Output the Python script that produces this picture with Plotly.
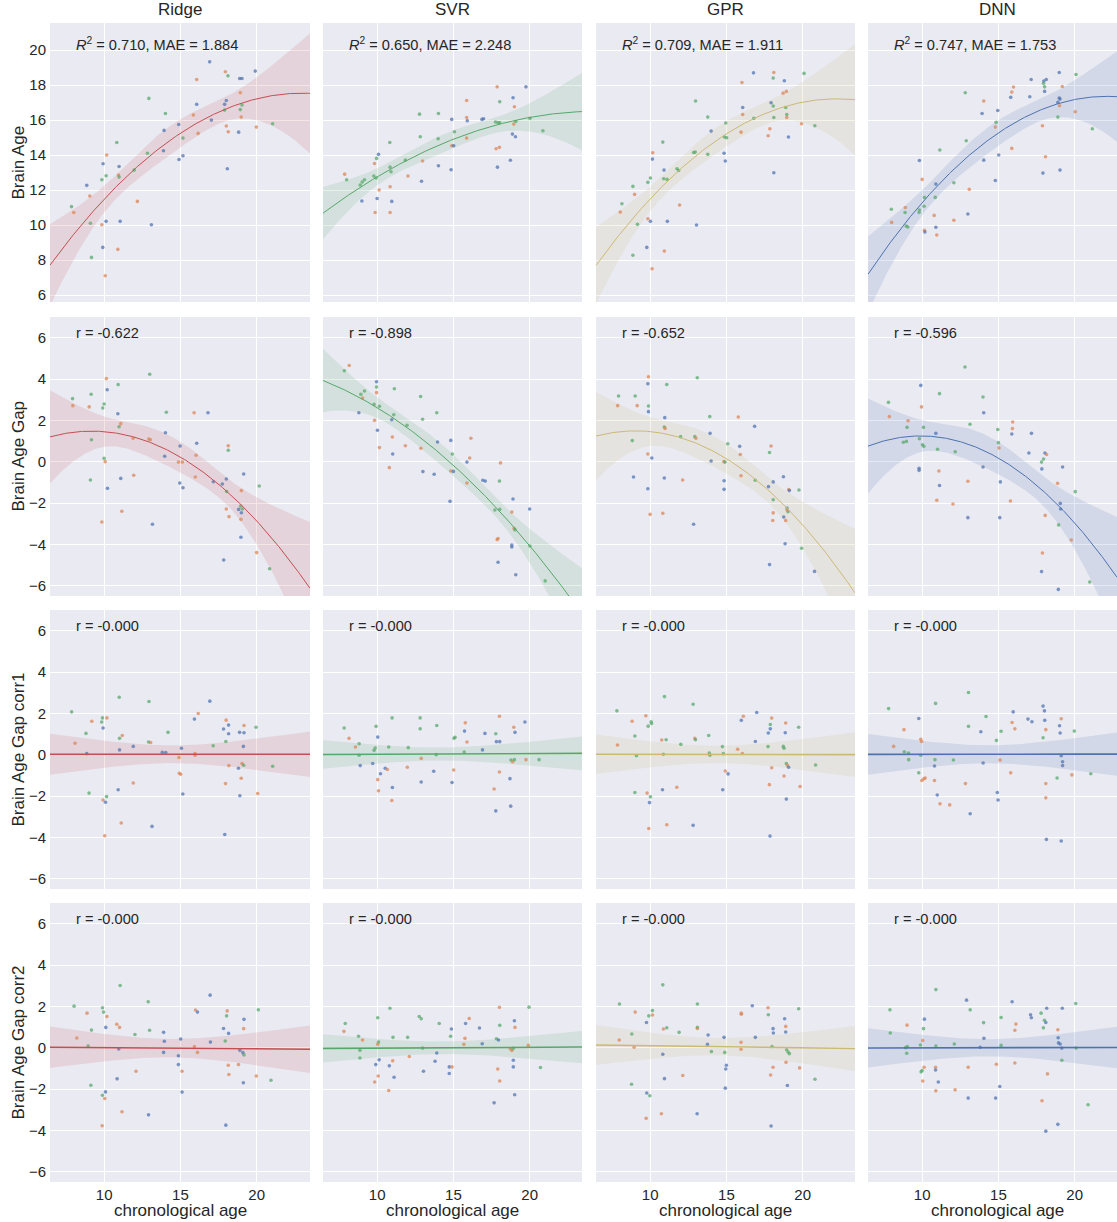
import numpy as np
import plotly.graph_objects as go

# ---------------- labels / styling data ----------------
MODELS = ["Ridge", "SVR", "GPR", "DNN"]
MODEL_COLORS = ["#C44E52", "#55A868", "#CCB974", "#4C72B0"]
ROW_LABELS = ["Brain Age", "Brain Age Gap", "Brain Age Gap corr1", "Brain Age Gap corr2"]
ROW1_TEXT = ["<i>R</i><sup>2</sup> = 0.710, MAE = 1.884", "<i>R</i><sup>2</sup> = 0.650, MAE = 2.248",
             "<i>R</i><sup>2</sup> = 0.709, MAE = 1.911", "<i>R</i><sup>2</sup> = 0.747, MAE = 1.753"]
ROW2_TEXT = ["r = -0.622", "r = -0.898", "r = -0.652", "r = -0.596"]
ROW3_TEXT = ["r = -0.000", "r = -0.000", "r = -0.000", "r = -0.000"]
ROW4_TEXT = ["r = -0.000", "r = -0.000", "r = -0.000", "r = -0.000"]
X_TICKS = [10, 15, 20]
Y_TICKS_AGE = [6, 8, 10, 12, 14, 16, 18, 20]
Y_TICKS_GAP = [-6, -4, -2, 0, 2, 4, 6]
GROUP_COLORS = {"b": "#4C72B0", "o": "#DD8452", "g": "#55A868"}

# ---------------- row 1: brain age ----------------
ridge_age_x = [16.92,17.95,18.12,19.91,18.89,19.04,16.07,12.93,16.07,18.01,17.90,18.93,19.04,18.93,17.90,14.02,15.85,17.03,18.99,21.05,19.98,18.01,18.14,18.82,14.89,13.93,15.17,16.16,10.83,12.84,13.89,10.17,14.91,15.17,18.08,9.93,10.98,10.94,10.98,11.97,10.13,9.85,8.86,9.06,12.18,7.86,8.01,9.10,9.85,10.13,11.05,13.10,9.91,10.90,9.17,10.07]
ridge_age_y = [19.33,18.76,18.53,18.80,18.38,18.38,18.32,17.24,16.90,17.12,16.90,17.56,16.86,16.60,16.57,16.38,16.29,16.00,16.17,15.79,15.60,15.66,15.33,15.31,15.75,15.41,14.97,15.24,14.72,14.10,14.25,14.00,13.75,13.96,13.22,13.50,13.35,12.86,12.74,13.14,12.82,12.59,12.27,11.66,11.35,11.05,10.72,10.10,10.02,10.21,10.21,10.02,8.72,8.61,8.15,7.10]
ridge_age_g = "bogbbbogbb" "boggggobog" "ooobbbgogg" "bobbbbbogg" "ggboogogob" "bbbogo"

svr_age_x = [17.87,19.76,18.91,18.04,15.87,19.00,12.78,14.02,14.89,15.87,15.91,16.87,16.98,17.76,17.93,18.04,18.96,19.09,20.02,20.87,15.07,12.83,14.00,18.87,19.07,15.87,14.89,15.02,10.83,17.80,18.02,10.09,9.96,9.83,11.85,12.98,14.02,14.85,17.89,18.74,10.85,10.91,7.87,8.00,8.89,9.02,9.17,9.78,9.93,12.02,12.91,10.13,10.85,9.00,10.00,10.96,9.87,10.85]
svr_age_y = [17.90,17.90,17.28,17.05,17.12,16.76,16.34,16.38,16.04,16.15,15.96,16.04,16.08,15.89,15.85,15.85,15.77,15.92,16.10,15.39,15.33,15.05,14.93,15.20,15.05,14.97,14.53,14.53,14.72,14.36,14.44,14.04,13.81,13.52,13.71,13.66,13.39,13.16,13.31,13.70,13.31,13.05,12.91,12.59,12.29,12.46,12.59,12.80,12.69,12.80,12.50,12.00,12.19,11.37,11.52,11.35,10.72,10.72]
svr_age_g = "obbgooggbo" "bbbgggoggg" "gggbboobgo" "obgogobbbb" "ggoggggggo" "boobbboo"

gpr_age_x = [16.78,18.11,18.07,18.80,20.09,16.02,18.72,18.93,12.98,16.07,17.93,18.07,18.89,16.07,18.96,18.96,16.80,18.11,13.78,14.96,14.00,15.96,17.85,17.74,19.93,20.80,19.07,14.87,15.02,10.83,12.85,12.96,13.78,14.85,14.93,10.17,10.15,18.11,10.91,11.76,11.87,10.89,11.11,10.02,9.85,8.87,8.98,11.93,8.15,8.04,9.17,9.85,10.02,11.13,13.04,9.78,10.93,8.87,10.13]
gpr_age_y = [18.70,18.72,18.40,18.25,18.67,18.15,17.54,17.64,17.09,16.72,16.99,16.80,16.72,16.32,16.32,16.15,16.10,16.15,16.17,15.83,15.37,15.31,15.50,15.10,15.79,15.68,15.03,15.03,14.99,14.74,14.15,14.17,14.04,14.10,13.66,14.13,13.77,12.99,13.14,13.22,13.12,12.65,12.61,12.69,12.44,12.21,11.75,11.14,11.22,10.74,10.04,10.36,10.21,10.21,10.00,8.72,8.51,8.27,7.50]
gpr_age_g = "bogbgooogb" "bggogogggg" "boooogbggg" "gggbbobbbg" "ggggggoogo" "gobbbbogo"

dnn_age_x = [18.99,20.09,17.15,18.14,17.98,17.96,18.03,18.03,19.19,15.99,15.88,15.81,17.06,12.83,14.04,18.99,19.04,18.90,19.01,14.96,13.93,20.04,18.90,14.85,14.80,17.89,21.16,12.89,15.88,11.16,15.02,14.04,9.82,18.09,17.92,19.04,10.00,14.80,10.90,12.08,13.09,10.15,10.86,7.98,8.90,8.88,9.82,9.80,10.13,10.79,13.00,8.00,8.95,9.06,12.08,10.15,10.18,10.90,10.96]
dnn_age_y = [18.72,18.61,18.32,18.32,18.23,18.10,17.90,17.64,17.92,17.89,17.60,17.30,17.33,17.56,17.09,17.26,17.20,17.01,16.82,16.55,16.38,16.48,16.17,15.87,15.60,15.68,15.50,14.82,14.38,14.29,14.00,13.71,13.69,13.90,12.97,13.14,12.61,12.55,12.34,12.42,12.04,11.58,11.58,10.90,11.00,10.72,10.86,10.72,11.07,10.55,10.63,10.15,9.94,9.89,10.27,9.70,9.60,9.87,9.43]
dnn_age_g = "bgbbbggboo" "obbgobbbob" "boggooggog" "bbbobbobbg" "ogggoggggo" "boggoobbo"

# ---------------- row 2: brain age gap ----------------
ridge_gap_x = [12.99,10.15,10.92,10.20,9.15,7.93,7.95,9.02,10.00,9.91,10.90,14.08,15.90,16.81,11.09,10.98,14.02,9.17,11.90,12.93,13.03,16.07,14.98,18.14,18.14,13.97,16.03,14.87,15.13,10.00,10.07,19.15,9.10,11.09,11.94,15.98,17.16,17.75,18.01,14.96,15.17,10.22,20.17,19.00,18.03,18.95,18.82,19.00,19.06,18.01,18.19,18.97,11.16,9.85,13.17,18.97,20.00,17.84,20.85]
ridge_gap_y = [4.23,4.02,3.73,3.48,3.26,3.05,2.71,2.65,2.79,2.60,2.32,2.39,2.37,2.37,1.84,1.69,1.40,1.06,1.13,1.10,1.06,0.89,0.76,0.77,0.55,0.26,0.31,-0.02,-0.02,0.16,0.00,-0.60,-0.89,-0.81,-0.66,-0.74,-0.97,-1.08,-0.84,-1.03,-1.26,-1.29,-1.18,-1.40,-1.44,-2.15,-2.31,-2.47,-2.29,-2.29,-2.66,-2.79,-2.40,-2.92,-3.03,-3.66,-4.40,-4.76,-5.18]
ridge_gap_g = "gogbggoogg" "bgobogbgoo" "obbogbooog" "obgboobbbb" "bbgoggbbgo" "oooobbobg"

svr_gap_x = [8.17,7.85,9.96,9.96,9.96,11.13,9.17,8.93,9.04,12.85,9.80,10.15,8.80,13.91,11.09,10.96,12.98,9.83,11.96,10.02,11.00,13.96,14.83,16.15,11.85,10.15,12.87,11.02,14.93,16.07,15.89,18.09,10.80,13.00,13.74,14.83,15.00,16.93,17.09,18.02,15.89,18.91,14.78,17.72,18.04,18.83,20.00,18.98,19.04,17.87,17.93,18.83,18.83,20.02,17.93,19.09,21.02]
svr_gap_y = [4.65,4.40,3.87,3.61,3.34,3.53,3.42,3.26,3.08,3.15,2.77,2.68,2.37,2.37,2.27,2.03,2.05,2.00,1.76,1.52,1.19,0.95,1.03,1.13,0.77,0.68,0.65,0.37,0.37,0.18,-0.02,-0.06,-0.29,-0.48,-0.61,-0.45,-0.47,-0.90,-0.94,-0.94,-1.03,-1.81,-1.92,-2.34,-2.31,-2.44,-2.29,-3.23,-3.30,-3.77,-3.72,-4.03,-4.13,-4.08,-4.87,-5.47,-5.77]
svr_gap_g = "ogbgogggog" "ggbggbgogb" "obboooobgo" "boobbobbbg" "obbggobogo" "obbgbbg"

gpr_gap_x = [9.89,9.85,11.09,13.09,7.93,9.02,7.87,9.15,9.89,9.89,10.96,13.91,15.78,16.85,10.93,10.98,13.93,12.00,12.93,13.00,8.83,15.09,15.87,17.93,17.83,15.91,9.85,10.11,14.00,14.83,14.91,8.91,10.93,12.13,14.85,15.96,16.89,18.07,17.76,18.74,19.09,19.13,19.76,9.85,14.85,18.07,18.98,19.04,18.98,18.07,18.76,18.89,18.04,10.00,10.83,12.85,18.85,19.93,17.83,20.78]
gpr_gap_y = [4.11,3.77,3.73,4.06,3.18,3.18,2.71,2.71,2.69,2.42,2.13,2.18,2.16,1.71,1.68,1.61,1.37,1.21,1.21,1.13,1.02,0.87,0.74,0.76,0.44,0.35,0.37,0.18,0.03,0.00,-0.02,-0.74,-0.79,-0.89,-0.92,-0.68,-0.90,-0.98,-1.21,-0.73,-1.35,-1.40,-1.37,-1.31,-1.34,-1.84,-2.24,-2.42,-2.34,-2.48,-2.68,-2.85,-2.85,-2.55,-2.50,-3.03,-3.97,-4.19,-4.98,-5.31]
gpr_gap_g = "obggggoogb" "bgobgobggo" "ggbogoobbo" "gbbobogbbb" "obgbbgggoo" "boooobbgbb"

dnn_gap_x = [12.81,9.91,11.14,13.99,7.79,9.96,14.04,7.85,9.08,15.94,13.14,9.01,10.09,14.96,15.92,15.88,17.17,10.90,8.77,8.97,9.82,10.02,10.11,15.00,15.04,11.01,12.17,17.00,18.05,18.16,17.96,17.83,13.99,17.85,19.21,9.80,9.80,11.10,13.00,15.13,18.88,11.14,20.04,10.96,12.02,15.79,19.06,19.08,18.07,18.95,13.00,15.09,19.78,17.89,17.83,20.99,18.93]
dnn_gap_y = [4.58,3.69,3.29,3.13,2.87,2.65,2.37,2.18,1.98,1.92,1.81,1.66,1.66,1.56,1.60,1.34,1.37,1.37,0.94,0.98,1.11,0.82,0.74,0.92,0.66,0.60,0.48,0.42,0.42,0.35,0.13,-0.02,-0.26,-0.35,-0.26,-0.32,-0.42,-0.45,-0.95,-0.98,-1.05,-1.15,-1.45,-1.87,-2.05,-1.90,-2.02,-2.29,-2.60,-3.06,-2.71,-2.71,-3.79,-4.42,-5.32,-5.82,-6.18]
dnn_gap_g = "gbgggobooo" "ggggobbbgg" "ggggoggbbo" "ggbbbbboob" "obgooobbog" "bboobgb"

# ---------------- row 3: corrected gap (corr1) ----------------
ridge_c1_x = [10.99,12.94,16.93,7.87,16.17,15.92,9.19,9.89,10.18,9.84,9.93,18.00,18.16,17.83,19.17,19.96,8.81,14.19,18.16,18.88,19.17,11.19,11.01,12.91,13.05,8.09,11.91,11.01,17.15,17.98,19.13,8.86,13.81,14.04,15.07,14.91,15.96,15.96,18.18,18.81,19.04,19.15,21.05,14.93,15.02,11.91,17.96,18.99,10.92,9.01,15.16,18.90,20.07,9.93,10.09,10.16,11.12,13.14,17.91,10.04]
ridge_c1_y = [2.78,2.57,2.59,2.07,1.99,1.72,1.62,1.78,1.78,1.58,1.29,1.67,1.43,1.24,1.41,1.33,1.03,1.08,1.01,1.08,1.06,0.93,0.79,0.61,0.59,0.55,0.40,0.23,0.43,0.64,0.40,0.05,0.11,0.10,0.31,-0.14,0.05,-0.03,-0.53,-0.66,-0.43,-0.51,-0.56,-0.90,-0.95,-1.37,-1.40,-1.14,-1.70,-1.86,-1.90,-1.99,-1.88,-2.19,-2.30,-2.03,-3.31,-3.47,-3.86,-3.92]
ridge_c1_g = "ggbgobogog" "bobbogggbb" "boggoobbgg" "bbbbboooob" "oggooooobg" "bboobgobbo"

svr_c1_x = [10.98,12.82,18.02,19.69,7.84,9.93,12.82,13.91,15.78,18.96,15.73,17.07,17.78,19.04,8.16,10.04,15.04,15.11,15.89,17.82,18.04,8.82,8.58,9.87,9.80,10.76,12.04,16.91,15.71,8.82,13.87,12.89,18.78,18.89,19.00,19.76,20.62,8.89,9.71,10.53,10.67,11.98,13.71,15.02,18.02,10.22,12.89,14.91,18.71,10.04,11.00,10.09,17.67,10.96,18.76,17.78]
svr_c1_y = [1.78,1.78,1.86,1.58,1.29,1.37,1.25,1.41,1.54,1.33,1.14,1.03,1.01,1.08,0.79,0.85,0.79,0.84,0.61,0.63,0.63,0.53,0.37,0.32,0.21,0.37,0.34,0.23,0.13,-0.03,0.00,-0.18,-0.26,-0.34,-0.24,-0.24,-0.24,-0.53,-0.43,-0.66,-0.72,-0.61,-0.80,-0.74,-0.84,-0.92,-1.32,-1.35,-1.16,-1.21,-1.59,-1.75,-1.66,-2.22,-2.49,-2.72]
svr_c1_g = "ggobggggoo" "bbgbobggob" "bgoggggbgg" "gogogogbbb" "ooboobbbbo" "booobb"

gpr_c1_x = [10.94,12.82,7.82,16.99,9.72,16.11,8.82,15.98,10.07,10.09,9.87,17.97,17.88,17.88,17.75,18.89,19.74,18.86,9.00,13.84,10.76,11.05,12.93,12.97,16.90,12.01,7.86,17.73,18.73,18.78,14.74,15.74,10.87,9.10,13.88,13.92,14.80,16.05,18.93,19.00,19.08,20.85,17.97,14.93,15.11,18.78,17.82,19.83,11.75,10.81,14.76,9.00,9.80,10.02,9.96,18.93,9.91,11.09,12.82,17.86]
gpr_c1_y = [2.81,2.44,2.12,2.04,1.88,1.86,1.62,1.66,1.59,1.51,1.38,1.77,1.46,1.25,1.05,1.53,1.33,1.06,0.90,0.93,0.71,0.72,0.79,0.72,0.64,0.50,0.47,0.39,0.40,0.31,0.39,0.26,0.02,-0.05,0.08,-0.03,0.05,0.06,-0.43,-0.51,-0.61,-0.50,-0.63,-0.79,-0.93,-1.03,-1.45,-1.54,-1.58,-1.70,-1.70,-1.83,-1.86,-2.04,-2.32,-2.15,-3.57,-3.39,-3.42,-3.94]
gpr_c1_g = "gggbooobgg" "gogbbogbgg" "ogogbgoggg" "gogggggogo" "bgooboooob" "bgogbboobb"

dnn_c1_x = [13.04,10.88,7.80,17.93,18.02,15.97,9.78,14.19,16.94,17.20,18.04,19.12,15.90,13.04,16.08,18.11,19.01,19.05,8.81,13.85,15.18,19.98,17.93,9.91,9.96,14.87,8.13,8.83,9.10,9.91,9.12,10.84,10.81,12.05,14.00,15.11,19.12,19.21,19.21,9.78,15.81,19.82,21.06,18.85,9.98,10.11,10.20,10.81,12.84,18.11,10.99,14.93,14.98,11.17,11.81,18.11,13.15,18.15,19.12]
dnn_c1_y = [3.01,2.48,2.23,2.35,2.12,2.07,1.75,1.85,1.72,1.59,1.66,1.74,1.56,1.37,1.25,1.21,1.40,1.05,1.21,1.11,1.13,1.14,0.82,0.74,0.64,0.69,0.40,0.14,0.08,-0.03,-0.24,-0.24,-0.55,-0.26,-0.40,-0.26,-0.05,-0.34,-0.53,-0.88,-0.88,-0.98,-0.92,-1.13,-1.25,-1.17,-1.13,-1.25,-1.40,-1.40,-1.95,-1.83,-2.19,-2.38,-2.43,-2.09,-2.86,-4.10,-4.18]
dnn_c1_g = "gggbbbbgbb" "boogoobbob" "gggoogoggg" "ggbgbobbbg" "ooggoooooo" "bbbooobbb"

# ---------------- row 4: corrected gap (corr2) ----------------
ridge_c2_x = [11.05,16.95,12.89,8.03,9.89,9.96,10.18,8.88,15.99,16.12,18.07,18.03,20.11,19.17,10.11,10.83,11.01,9.17,12.98,13.90,17.83,18.16,19.15,12.02,8.21,13.95,15.02,16.97,17.94,8.95,10.96,15.92,13.90,14.87,16.12,18.90,19.10,19.17,14.87,18.14,18.81,12.09,15.11,18.18,19.98,20.94,10.85,19.13,9.13,10.09,9.89,10.04,15.11,11.17,12.91,9.87,17.98]
ridge_c2_y = [3.01,2.54,2.22,2.01,1.93,1.72,1.51,1.67,1.82,1.72,1.78,1.54,1.83,1.37,0.98,1.13,0.98,0.85,0.84,0.74,0.93,0.69,0.92,0.64,0.47,0.31,0.42,0.27,0.32,0.08,-0.06,0.06,-0.23,-0.39,-0.23,-0.13,-0.24,-0.35,-0.82,-0.85,-0.82,-1.14,-1.14,-1.30,-1.37,-1.58,-1.51,-1.70,-1.82,-2.14,-2.30,-2.46,-2.15,-3.10,-3.25,-3.78,-3.75]
ridge_c2_g = "gbggggooob" "oggbbooggb" "bbogobbbgg" "bobbobbgbo" "ooooogbbgb" "gobobob"

svr_c2_x = [10.84,18.02,19.96,12.76,12.89,10.04,16.04,19.00,7.91,14.07,15.80,18.04,16.71,14.87,19.04,7.82,14.82,8.78,9.04,11.04,12.00,15.76,17.82,17.96,10.09,10.04,15.69,16.89,19.91,12.98,18.73,18.84,18.93,8.87,13.91,12.11,8.87,10.13,11.02,18.93,13.80,9.91,10.80,14.73,14.91,18.93,20.71,17.91,13.04,14.73,11.11,10.07,9.84,18.04,10.76,19.02,17.67]
svr_c2_y = [1.91,1.95,1.96,1.51,1.40,1.45,1.41,1.30,1.17,1.17,1.17,1.08,0.95,0.90,0.98,0.79,0.55,0.55,0.37,0.50,0.50,0.45,0.43,0.37,0.27,0.16,0.16,0.19,0.11,-0.02,-0.05,-0.14,-0.03,-0.13,-0.26,-0.43,-0.50,-0.59,-0.63,-0.61,-0.66,-0.82,-0.88,-0.93,-0.93,-0.93,-0.96,-1.03,-1.14,-1.25,-1.43,-1.37,-1.66,-1.61,-2.07,-2.28,-2.67]
svr_c2_g = "goggggobgg" "bgbbooggog" "gogbgoobog" "ooggbogbob" "bbbbobgobb" "boooobb"

gpr_c2_x = [10.83,7.99,13.10,16.70,17.73,19.74,9.02,10.15,10.15,9.91,15.98,15.98,17.75,18.82,9.76,18.89,18.89,18.06,18.08,10.87,11.09,13.10,13.10,11.90,8.80,13.80,14.85,16.90,7.97,15.96,13.76,8.95,17.99,15.96,14.02,14.89,18.95,19.04,19.13,10.83,18.91,18.06,19.80,15.00,14.96,17.90,12.14,10.94,20.81,8.78,19.00,14.93,9.78,9.98,10.74,9.74,13.08,17.93]
gpr_c2_y = [3.04,2.11,2.11,2.03,1.93,1.88,1.72,1.80,1.58,1.54,1.67,1.62,1.59,1.40,1.22,1.03,0.76,0.92,0.71,0.90,0.96,0.98,0.93,0.74,0.66,0.61,0.50,0.50,0.37,0.26,0.16,0.02,0.06,-0.08,-0.19,-0.23,-0.10,-0.21,-0.29,-0.32,-0.71,-0.95,-0.98,-0.85,-1.03,-1.32,-1.35,-1.50,-1.53,-1.77,-1.83,-1.96,-2.19,-2.33,-3.20,-3.42,-3.20,-3.79]
gpr_c2_g = "gggbogogog" "oogbbobbbo" "ggoggbbboo" "bogogggggb" "ooobboobgg" "bbbgoobb"

dnn_c2_x = [10.90,12.91,15.90,20.07,7.89,13.15,18.17,19.19,17.80,17.11,17.16,10.15,18.02,18.11,14.03,15.18,9.01,16.15,10.09,17.95,18.90,16.08,7.91,18.92,18.94,19.05,14.05,10.04,9.89,9.03,8.92,10.90,12.11,13.81,15.18,19.16,20.09,8.99,19.16,10.13,10.88,13.02,14.87,16.08,10.88,9.93,10.00,18.22,10.04,11.06,15.09,10.90,12.16,13.02,14.82,17.86,20.88,18.90,18.11]
dnn_c2_y = [2.81,2.30,2.22,2.14,1.83,1.83,1.91,1.91,1.67,1.59,1.45,1.38,1.33,1.22,1.21,1.46,1.09,1.14,0.92,0.96,0.87,0.84,0.71,0.48,0.23,0.18,0.45,0.35,0.13,0.06,0.00,0.08,0.18,0.02,0.11,-0.02,-0.02,-0.27,-0.61,-0.95,-0.95,-0.95,-0.80,-0.74,-1.08,-1.17,-1.11,-1.27,-1.61,-1.66,-1.88,-2.09,-2.04,-2.44,-2.44,-2.57,-2.76,-3.71,-4.04]
dnn_c2_g = "gbbgggbbgb" "bbgbggoogg" "oogbbbbogg" "gggbgbgggo" "oooobggoob" "boobbogbb"

PANELS = [
    [(ridge_age_x, ridge_age_y, ridge_age_g), (svr_age_x, svr_age_y, svr_age_g),
     (gpr_age_x, gpr_age_y, gpr_age_g), (dnn_age_x, dnn_age_y, dnn_age_g)],
    [(ridge_gap_x, ridge_gap_y, ridge_gap_g), (svr_gap_x, svr_gap_y, svr_gap_g),
     (gpr_gap_x, gpr_gap_y, gpr_gap_g), (dnn_gap_x, dnn_gap_y, dnn_gap_g)],
    [(ridge_c1_x, ridge_c1_y, ridge_c1_g), (svr_c1_x, svr_c1_y, svr_c1_g),
     (gpr_c1_x, gpr_c1_y, gpr_c1_g), (dnn_c1_x, dnn_c1_y, dnn_c1_g)],
    [(ridge_c2_x, ridge_c2_y, ridge_c2_g), (svr_c2_x, svr_c2_y, svr_c2_g),
     (gpr_c2_x, gpr_c2_y, gpr_c2_g), (dnn_c2_x, dnn_c2_y, dnn_c2_g)],
]
ROW_TEXTS = [ROW1_TEXT, ROW2_TEXT, ROW3_TEXT, ROW4_TEXT]
FIT_ORDER = [2, 2, 1, 1]

# ---------------- geometry (pixels) ----------------
W, H = 1117, 1222
COL_PX = [(50, 310), (323, 582), (596, 855), (868, 1117)]
ROW_PX = [(23, 302), (317, 596), (610, 889), (903, 1182)]
X_LEFT = 6.45
X_PX_PER_UNIT = 15.25
Y_RANGES = [(5.6, 21.55), (-6.5, 7.0), (-6.5, 7.0), (-6.5, 7.0)]


def fx(px):
    return px / W


def fy(py):
    return 1 - py / H


def rgba(hex_color, a):
    h = hex_color.lstrip("#")
    r, g, b = int(h[0:2], 16), int(h[2:4], 16), int(h[4:6], 16)
    return f"rgba({r},{g},{b},{a})"


def fit_with_ci(x, y, order, xs):
    x = np.asarray(x, float)
    y = np.asarray(y, float)
    X = np.vander(x, order + 1)
    beta, *_ = np.linalg.lstsq(X, y, rcond=None)
    resid = y - X @ beta
    n, p = X.shape
    s2 = resid @ resid / (n - p)
    cov = np.linalg.inv(X.T @ X) * s2
    Xs = np.vander(xs, order + 1)
    yhat = Xs @ beta
    se = np.sqrt(np.einsum("ij,jk,ik->i", Xs, cov, Xs))
    t = 1.96 + 2.4 / (n - p)
    return yhat, yhat - t * se, yhat + t * se


fig = go.Figure()
layout = {}
annotations = []
FONT = "Liberation Sans, Arial, sans-serif"
TXT = "#262626"

for r in range(4):
    for c in range(4):
        k = r * 4 + c + 1
        xa = "x" if k == 1 else f"x{k}"
        ya = "y" if k == 1 else f"y{k}"
        L, R = COL_PX[c]
        T, B = ROW_PX[r]
        xr = (X_LEFT, X_LEFT + (R - L) / X_PX_PER_UNIT)
        yr = Y_RANGES[r]
        px_, py_, pg_ = PANELS[r][c]
        n = min(len(px_), len(py_), len(pg_))
        xs_pts = np.array(px_[:n])
        ys_pts = np.array(py_[:n])
        cols = [GROUP_COLORS.get(ch, "#8C8C8C") for ch in pg_[:n]]
        col = MODEL_COLORS[c]

        xs = np.linspace(xr[0], xr[1], 200)
        yhat, lo, hi = fit_with_ci(xs_pts, ys_pts, FIT_ORDER[r], xs)

        fig.add_trace(go.Scatter(
            x=np.concatenate([xs, xs[::-1]]), y=np.concatenate([hi, lo[::-1]]),
            fill="toself", fillcolor=rgba(col, 0.15), line=dict(width=0),
            mode="lines", hoverinfo="skip", xaxis=xa, yaxis=ya))
        fig.add_trace(go.Scatter(
            x=xs_pts, y=ys_pts, mode="markers",
            marker=dict(size=3.6, color=cols, opacity=0.72, line=dict(width=0)),
            xaxis=xa, yaxis=ya))
        fig.add_trace(go.Scatter(
            x=xs, y=yhat, mode="lines",
            line=dict(color=col, width=1.0 if r < 2 else 1.6),
            xaxis=xa, yaxis=ya))

        xkey = "xaxis" if k == 1 else f"xaxis{k}"
        ykey = "yaxis" if k == 1 else f"yaxis{k}"
        layout[xkey] = dict(
            domain=[fx(L), fx(R)], range=list(xr), anchor=ya,
            tickvals=X_TICKS, showticklabels=(r == 3), ticks="", ticklabelstandoff=2,
            showgrid=True, gridcolor="white", gridwidth=1, zeroline=False,
            showline=False, tickfont=dict(size=15, color=TXT, family=FONT))
        layout[ykey] = dict(
            domain=[fy(B), fy(T)], range=list(yr), anchor=xa,
            tickvals=Y_TICKS_AGE if r == 0 else Y_TICKS_GAP,
            showticklabels=(c == 0), ticks="", ticklabelstandoff=3,
            showgrid=True, gridcolor="white", gridwidth=1, zeroline=False,
            showline=False, tickfont=dict(size=15, color=TXT, family=FONT))

        # panel statistic text
        ty = T + (21 if r == 0 else 16)
        annotations.append(dict(
            x=fx(L + 24), y=fy(ty), xref="paper", yref="paper",
            text=ROW_TEXTS[r][c], showarrow=False, xanchor="left", yanchor="middle",
            font=dict(size=14.6, color=TXT, family=FONT)))

# column titles and x-axis titles
for c in range(4):
    L, R = COL_PX[c]
    cx = (L + R) / 2 if c < 3 else (L + L + 259) / 2
    annotations.append(dict(x=fx(cx), y=fy(9), xref="paper", yref="paper", text=MODELS[c],
                            showarrow=False, xanchor="center", yanchor="middle",
                            font=dict(size=17, color=TXT, family=FONT)))
    annotations.append(dict(x=fx(cx), y=fy(1210), xref="paper", yref="paper",
                            text="chronological age", showarrow=False,
                            xanchor="center", yanchor="middle",
                            font=dict(size=17, color=TXT, family=FONT)))

# row labels
for r in range(4):
    T, B = ROW_PX[r]
    annotations.append(dict(x=fx(18), y=fy((T + B) / 2), xref="paper", yref="paper",
                            text=ROW_LABELS[r], showarrow=False, textangle=-90,
                            xanchor="center", yanchor="middle",
                            font=dict(size=17, color=TXT, family=FONT)))

fig.update_layout(
    width=W, height=H, margin=dict(l=0, r=0, t=0, b=0),
    plot_bgcolor="#EAEAF2", paper_bgcolor="white", showlegend=False,
    hovermode=False,
    font=dict(family=FONT, color=TXT), annotations=annotations, **layout)

fig.write_html("out.html", config={"displayModeBar": False, "staticPlot": True},
               post_script="document.body.style.margin='0px';document.body.style.overflow='hidden';")
